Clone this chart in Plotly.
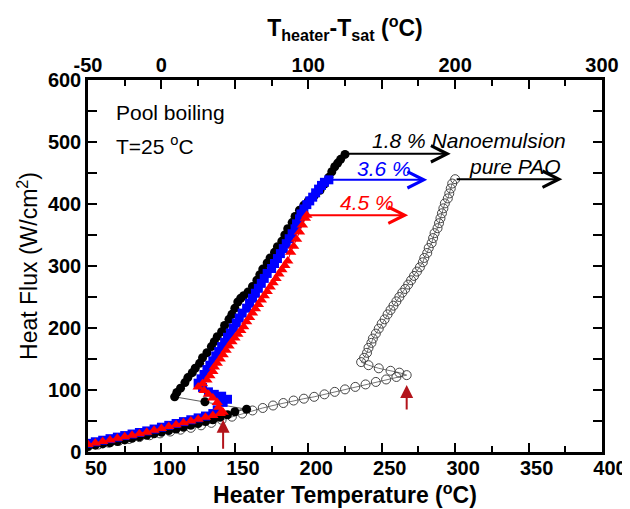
import plotly.graph_objects as go

# ---------------- data ----------------
pao_x = [50, 57, 64, 71, 78, 85, 92, 99, 106, 113, 120, 127, 134, 141, 148, 155, 162, 169,
         176, 183, 190, 197, 204, 211, 218, 225, 232, 239, 246, 253, 260, 267,
         262, 256, 248, 241, 236,
         238, 240, 241, 243, 244, 246, 248, 250, 252, 254, 256, 258, 260, 262, 264, 266, 268,
         270, 272, 274, 276, 278, 279, 281, 282, 284, 285, 286, 288, 289, 290, 291, 292, 293,
         295, 296, 297, 298, 300]
pao_y = [9, 12, 15, 18, 21, 24, 27, 30, 33, 36, 39, 43, 47, 52, 57, 62, 67, 71,
         75, 79, 83, 86, 89, 93, 97, 101, 105, 109, 113, 117, 121, 124,
         128, 131, 135, 140, 145,
         152, 160, 168, 176, 183, 191, 199, 207, 214, 222, 229, 236, 243, 250, 257, 263, 270,
         277, 284, 291, 298, 306, 313, 321, 329, 337, 345, 353, 361, 369, 377, 385, 393, 401,
         409, 417, 425, 433, 440]

ne18_x = [50, 55, 60, 65, 70, 75, 80, 85, 90, 95, 100, 105, 110, 115, 120, 125, 130, 135,
          140, 145, 150, 158,
          129.6, 109,
          110.5, 113, 116, 118, 121, 123, 126, 128, 131, 134, 136, 138, 141, 143, 146, 148,
          150, 152, 154, 156, 159, 162, 165, 167, 169, 172, 174, 177, 179, 182, 184, 186,
          189, 191, 194, 197, 200, 204, 208, 211, 214, 216, 218, 220, 222, 225]
ne18_y = [9, 11, 13, 15, 17, 19.5, 22, 24.5, 27, 29.5, 32, 34.5, 37, 40, 43, 46, 49, 52,
          56, 60, 65, 69,
          81, 89,
          96, 103, 112, 120, 128, 135, 143, 152, 160, 170, 178, 186, 194, 204, 214, 222,
          232, 242, 248, 252, 258, 267, 277, 286, 295, 305, 313, 322, 331, 340, 350, 360,
          370, 380, 390, 398, 405, 413, 422, 432, 443, 452, 460, 466, 472, 480]

ne36_x = [50, 55, 60, 65, 70, 75, 80, 85, 90, 95, 100, 105, 110, 115, 120, 125, 130, 135, 138,
          142, 145, 141, 136, 132, 128, 125,
          127, 129, 131, 133, 135, 137, 139, 141, 143, 145, 147, 149, 151, 153, 155, 158,
          160, 162, 164, 166, 168, 170, 172, 175, 177, 179, 181, 183, 185, 187, 189, 191,
          192, 194, 195, 197, 199, 201, 203, 205, 207, 209, 211, 214]
ne36_y = [14, 16.5, 19, 21.5, 24, 26.5, 29, 31.5, 34, 37, 40, 43, 46, 49, 52, 55, 58, 62, 68,
          80, 85, 90, 93, 97, 104, 111,
          118, 125, 133, 140, 147, 155, 162, 170, 177, 185, 192, 200, 208, 216, 224, 232,
          240, 248, 256, 264, 272, 280, 288, 296, 304, 312, 320, 328, 336, 344, 352, 360,
          368, 376, 384, 392, 399, 405, 411, 418, 424, 430, 435, 439]

ne45_x = [50, 55, 60, 65, 70, 75, 80, 85, 90, 95, 100, 105, 110, 115, 120, 125, 130, 135, 140, 142,
          139, 138, 135, 132, 129, 125,
          128, 131, 133, 135, 136, 138, 140, 142, 144, 146, 148, 150, 152, 154, 156, 158,
          160, 162, 164, 166, 168, 170, 172, 174, 176, 178, 180, 182, 184, 186, 188, 190,
          192, 194, 196, 198, 199]
ne45_y = [12, 14.5, 17, 19.5, 22, 24.5, 27, 29.5, 32, 35, 38, 41, 44, 47, 50, 53, 56, 59, 62, 64,
          72, 80, 87, 93, 99, 105,
          110, 116, 123, 130, 137, 143, 150, 157, 164, 171, 178, 184, 190, 196, 202, 210,
          217, 224, 231, 238, 245, 252, 259, 266, 273, 280, 287, 294, 301, 308, 322, 332,
          343, 355, 366, 377, 382]

x_range = [50, 400]
y_range = [0, 600]
top_range = [-50, 300]
top_tickvals = [-50, 0, 50, 100, 150, 200, 250, 300]
top_ticktext = ["-50", "0", "", "100", "", "200", "", "300"]

# ---------------- figure ----------------
fig = go.Figure()

fig.add_trace(go.Scatter(x=pao_x, y=pao_y, mode="lines+markers",
                         line=dict(color="#555555", width=0.8),
                         marker=dict(symbol="circle-open", size=9, color="#444444",
                                     line=dict(width=1, color="#444444")),
                         showlegend=False))
fig.add_trace(go.Scatter(x=ne18_x, y=ne18_y, mode="lines+markers",
                         line=dict(color="#333333", width=0.8),
                         marker=dict(symbol="circle", size=9, color="black"),
                         showlegend=False))
fig.add_trace(go.Scatter(x=ne36_x, y=ne36_y, mode="lines+markers",
                         line=dict(color="#0000ff", width=1),
                         marker=dict(symbol="square", size=9, color="#0000ff"),
                         showlegend=False))
fig.add_trace(go.Scatter(x=ne45_x, y=ne45_y, mode="lines+markers",
                         line=dict(color="#ff0000", width=1),
                         marker=dict(symbol="triangle-up", size=10, color="#ff0000"),
                         showlegend=False))
# helper trace so the top axis is drawn
fig.add_trace(go.Scatter(x=top_range, y=[0, 0], xaxis="x2", mode="markers",
                         marker=dict(opacity=0), hoverinfo="skip", showlegend=False))

tickfont = dict(family="Arial", size=20, color="black", weight="bold")

fig.update_layout(
    width=630, height=509, autosize=False,
    margin=dict(l=80, r=36, t=72, b=65),
    paper_bgcolor="white", plot_bgcolor="white",
    font=dict(family="Arial", color="black"),
    xaxis=dict(range=x_range, dtick=50, tick0=50, ticks="inside", ticklen=9, tickwidth=2,
               tickcolor="black", showline=True, linewidth=2.5, linecolor="black",
               mirror="allticks", showgrid=False, zeroline=False, tickfont=tickfont,
               ticklabelshift=8, ticklabelstandoff=-4, automargin=False,
               minor=dict(dtick=25, tick0=50, ticks="inside", ticklen=6, tickwidth=2,
                          tickcolor="black", showgrid=False),
               title=dict(text="<b>Heater Temperature (<sup>o</sup>C)</b>",
                          font=dict(family="Arial", size=23, color="black"), standoff=4)),
    xaxis2=dict(range=top_range, overlaying="x", side="top", tickvals=top_tickvals,
                ticktext=top_ticktext, ticks="", showline=False, showgrid=False,
                zeroline=False, tickfont=tickfont, ticklabelstandoff=3, automargin=False,
                title=dict(text="<b>T<sub>heater</sub>-T<sub>sat</sub> (<sup>o</sup>C)</b>",
                           font=dict(family="Arial", size=23, color="black"), standoff=10)),
    yaxis=dict(range=y_range, dtick=100, ticks="inside", ticklen=9, tickwidth=2,
               tickcolor="black", showline=True, linewidth=2.5, linecolor="black",
               mirror="allticks", showgrid=False, zeroline=False, tickfont=tickfont,
               automargin=False,
               minor=dict(dtick=50, ticks="inside", ticklen=6, tickwidth=2,
                          tickcolor="black", showgrid=False),
               title=dict(text="Heat Flux (W/cm<sup>2</sup>)",
                          font=dict(family="Arial", size=23, color="black"), standoff=4)),
)

ann_font = dict(family="Arial", size=21)
annotations = [
    dict(x=68, y=548, text="Pool boiling", font=dict(ann_font, color="black")),
    dict(x=68, y=495, text="T=25 <sup>o</sup>C", font=dict(ann_font, color="black")),
    dict(x=242, y=503, text="<i>1.8 % Nanoemulsion</i>", font=dict(ann_font, color="black")),
    dict(x=232, y=458, text="<i>3.6 %</i>", font=dict(ann_font, color="#0000ff")),
    dict(x=308, y=460, text="<i>pure PAO</i>", font=dict(ann_font, color="black")),
    dict(x=220, y=403, text="<i>4.5 %</i>", font=dict(ann_font, color="#ff0000")),
]
for a in annotations:
    a.update(xref="x", yref="y", xanchor="left", yanchor="middle", showarrow=False)

arrows = [
    dict(x=297, y=481, ax=225, ay=481, arrowcolor="black", arrowhead=5, arrowsize=1.6),
    dict(x=281, y=439, ax=214, ay=439, arrowcolor="#0000ff", arrowhead=5, arrowsize=1.6),
    dict(x=268, y=382, ax=199, ay=382, arrowcolor="#ff0000", arrowhead=5, arrowsize=1.6),
    dict(x=373, y=440, ax=300, ay=440, arrowcolor="black", arrowhead=5, arrowsize=1.6),
    dict(x=142, y=52, ax=142, ay=3, arrowcolor="#b3141b", arrowhead=2, arrowsize=1.3),
    dict(x=267, y=108, ax=267, ay=66, arrowcolor="#b3141b", arrowhead=2, arrowsize=1.3),
]
for a in arrows:
    a.update(xref="x", yref="y", axref="x", ayref="y", text="", showarrow=True,
             arrowwidth=2)

fig.update_layout(annotations=annotations + arrows)

fig.write_html("out.html")
